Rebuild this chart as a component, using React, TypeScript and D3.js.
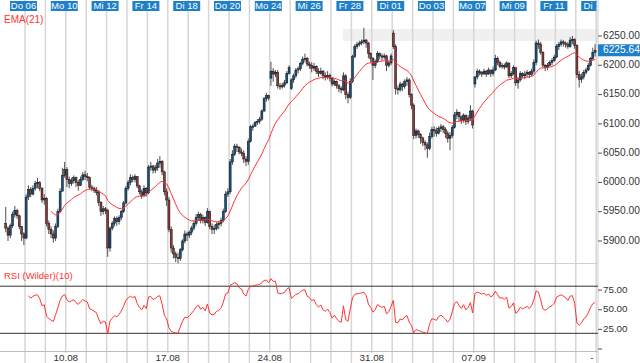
import React from "react";
import * as d3 from "d3";

const W = 640;
const H = 363;
const PER_DAY = 9;
const DAYS = 29;

// Top date labels (every other trading day) and their day index
const topLabels = ["Do 06", "Mo 10", "Mi 12", "Fr 14", "Di 18", "Do 20", "Mo 24", "Mi 26", "Fr 28", "Di 01", "Do 03", "Mo 07", "Mi 09", "Fr 11", "Di 15"];
const topLabelDays = [1, 3, 5, 7, 9, 11, 13, 15, 17, 19, 21, 23, 25, 27, 29];

// Bottom axis labels (Mondays)
const bottomLabels = ["10.08", "17.08", "24.08", "31.08", "07.09"];
const bottomLabelDays = [3, 8, 13, 18, 23];

const priceTicks = [5900, 5950, 6000, 6050, 6100, 6150, 6200, 6250];
const rsiTicks = [25, 50, 75];
const rsiTickMarks = [0, 25, 50, 75];
const rsiLevels = [20, 80];
const lastPrice = 6225.64;

// Hourly candles, 9 per trading day (05.08 - 14.09)
const closes = [
  5922, 5910, 5926, 5945, 5952, 5943, 5925, 5912, 5905,
  5975, 5988, 5980, 5990, 5998, 6000, 5990, 5970, 5973,
  5930, 5920, 5912, 5905, 5925, 5950, 5985, 6012, 6022,
  6005, 5998, 6003, 6008, 6000, 5995, 6005, 6013, 6010,
  6008, 5992, 5990, 5986, 5983, 5966, 5950, 5955, 5952,
  5888, 5922, 5930, 5938, 5933, 5940, 5950, 5965, 5990,
  6000, 6008, 6005, 6010, 5994, 5984, 5977, 5990, 5982,
  6026, 6028, 6021, 6025, 6033, 6036, 6018, 5984, 5970,
  5920, 5888, 5878, 5872, 5870, 5885, 5900, 5912, 5910,
  5915, 5922, 5930, 5940, 5945, 5935, 5940, 5932, 5950,
  5925, 5920, 5921, 5928, 5930, 5935, 5950, 5980, 5984,
  6035, 6048, 6062, 6060, 6052, 6050, 6040, 6036, 6070,
  6095, 6096, 6102, 6104, 6108, 6122, 6143, 6148, 6144,
  6190, 6185, 6188, 6165, 6163, 6166, 6170, 6186, 6196,
  6175, 6182, 6192, 6194, 6203, 6210, 6212, 6202, 6200,
  6195, 6198, 6190, 6186, 6190, 6182, 6180, 6183, 6178,
  6168, 6172, 6165, 6160, 6158, 6182, 6150, 6145, 6172,
  6215, 6232, 6236, 6238, 6240, 6243, 6238, 6220, 6212,
  6200, 6206, 6220, 6216, 6214, 6216, 6200, 6204, 6216,
  6232, 6160, 6158, 6168, 6164, 6172, 6175, 6150, 6132,
  6080, 6088, 6082, 6076, 6068, 6064, 6058, 6078, 6090,
  6088, 6084, 6092, 6095, 6090, 6084, 6075, 6080, 6094,
  6115, 6120, 6112, 6106, 6115, 6104, 6110, 6122, 6098,
  6180, 6190, 6188, 6185, 6190, 6185, 6192, 6186, 6192,
  6212, 6205, 6198, 6200, 6197, 6204, 6182, 6186, 6196,
  6170, 6175, 6186, 6182, 6185, 6188, 6184, 6190, 6205,
  6238, 6236, 6222, 6200, 6196, 6200, 6205, 6208, 6214,
  6232, 6236, 6240, 6238, 6236, 6232, 6243, 6244, 6234,
  6184, 6176, 6180, 6188, 6192, 6200, 6212, 6222, 6225.64,
];

const highs = [
  5958, 5925, 5930, 5950, 5960, 5955, 5945, 5925, 5915,
  5980, 5995, 5992, 5995, 6003, 6008, 6002, 5992, 5980,
  5975, 5935, 5925, 5918, 5930, 5955, 5990, 6025, 6035,
  6026, 6010, 6008, 6012, 6010, 6004, 6010, 6018, 6020,
  6016, 6010, 5996, 5993, 5992, 5986, 5968, 5960, 5958,
  5955, 5925, 5934, 5942, 5942, 5944, 5953, 5968, 5994,
  6004, 6014, 6012, 6014, 6010, 5996, 5988, 5995, 5992,
  6030, 6035, 6030, 6030, 6040, 6045, 6038, 6020, 5990,
  5975, 5925, 5893, 5882, 5880, 5888, 5903, 5918, 5916,
  5918, 5926, 5935, 5946, 5950, 5948, 5945, 5942, 5956,
  5952, 5930, 5928, 5932, 5934, 5940, 5955, 5985, 5990,
  6040, 6055, 6066, 6066, 6062, 6058, 6055, 6045, 6075,
  6098, 6100, 6105, 6108, 6112, 6125, 6146, 6153, 6150,
  6206, 6195, 6192, 6192, 6170, 6170, 6175, 6190, 6200,
  6178, 6186, 6195, 6198, 6206, 6215, 6220, 6214, 6206,
  6205, 6204, 6200, 6195, 6196, 6192, 6188, 6190, 6186,
  6180, 6176, 6174, 6168, 6164, 6188, 6185, 6155, 6178,
  6218, 6236, 6240, 6242, 6244, 6264, 6245, 6240, 6222,
  6214, 6210, 6224, 6222, 6220, 6220, 6218, 6208, 6220,
  6260, 6236, 6165, 6172, 6170, 6176, 6180, 6178, 6152,
  6135, 6092, 6090, 6084, 6078, 6072, 6068, 6085, 6095,
  6096, 6094, 6096, 6100, 6098, 6094, 6088, 6086, 6098,
  6120, 6125, 6120, 6114, 6118, 6112, 6115, 6132, 6124,
  6182, 6194, 6193, 6190, 6194, 6192, 6196, 6192, 6198,
  6218, 6215, 6208, 6204, 6203, 6207, 6204, 6190, 6200,
  6196, 6180, 6190, 6188, 6190, 6192, 6190, 6194, 6210,
  6242, 6244, 6240, 6224, 6202, 6204, 6208, 6212, 6218,
  6236, 6240, 6244, 6243, 6241, 6240, 6248, 6250, 6246,
  6236, 6190, 6186, 6192, 6196, 6204, 6214, 6230, 6236,
];

const lows = [
  5915, 5900, 5905, 5922, 5940, 5938, 5920, 5900, 5893,
  5903, 5970, 5975, 5978, 5986, 5990, 5985, 5965, 5962,
  5925, 5912, 5905, 5897, 5900, 5922, 5948, 5985, 6008,
  5992, 5990, 5994, 5998, 5992, 5986, 5994, 6002, 6004,
  6002, 5988, 5985, 5982, 5978, 5960, 5943, 5945, 5946,
  5873, 5882, 5918, 5925, 5926, 5928, 5936, 5948, 5962,
  5986, 5995, 6000, 6000, 5990, 5980, 5972, 5975, 5976,
  5980, 6020, 6015, 6016, 6020, 6025, 6012, 5978, 5960,
  5915, 5880, 5870, 5864, 5862, 5866, 5882, 5896, 5900,
  5905, 5910, 5918, 5926, 5934, 5930, 5930, 5926, 5930,
  5920, 5912, 5912, 5918, 5920, 5925, 5932, 5948, 5975,
  5980, 6030, 6045, 6052, 6048, 6045, 6033, 6028, 6030,
  6068, 6088, 6095, 6098, 6100, 6105, 6120, 6138, 6140,
  6165, 6172, 6180, 6160, 6158, 6160, 6162, 6168, 6184,
  6158, 6170, 6178, 6186, 6190, 6200, 6205, 6198, 6194,
  6188, 6190, 6185, 6180, 6184, 6176, 6174, 6176, 6172,
  6164, 6165, 6160, 6154, 6152, 6156, 6142, 6135, 6142,
  6170, 6212, 6228, 6232, 6234, 6236, 6230, 6212, 6205,
  6175, 6195, 6204, 6210, 6208, 6210, 6190, 6196, 6200,
  6228, 6150, 6150, 6155, 6156, 6160, 6165, 6145, 6125,
  6074, 6075, 6076, 6066, 6062, 6055, 6042, 6055, 6075,
  6078, 6078, 6082, 6086, 6084, 6076, 6068, 6055, 6076,
  6092, 6108, 6104, 6100, 6102, 6098, 6100, 6105, 6092,
  6162, 6176, 6183, 6180, 6184, 6180, 6184, 6180, 6182,
  6190, 6200, 6195, 6194, 6193, 6196, 6178, 6178, 6183,
  6165, 6160, 6172, 6178, 6176, 6180, 6178, 6182, 6186,
  6200, 6228, 6218, 6196, 6190, 6192, 6198, 6200, 6206,
  6212, 6226, 6232, 6232, 6230, 6228, 6230, 6236, 6228,
  6178, 6162, 6170, 6176, 6184, 6190, 6198, 6208, 6215,
];

// Opening gaps: [candle index, open]; other candles open at the previous close
const gapOpens: [number, number][] = [
  [0, 5930],
  [117, 6178],
  [126, 6160],
  [171, 6255],
  [207, 6168],
];

const FONT = "'Liberation Sans', Arial, Helvetica, sans-serif";
const BLUE_TAG = "#1f80c8";
const UP = "#16527f";
const DOWN = "#8e3a3a";
const RED = "#ff3333";

export default function App() {
  const n = closes.length;
  const gapMap = new Map<number, number>(gapOpens);
  const opens = closes.map((c, i) => (gapMap.has(i) ? (gapMap.get(i) as number) : closes[i - 1]));

  const x = d3.scaleLinear().domain([0, DAYS]).range([4.6, 596.2]);
  const cx = (i: number) => x((i + 0.5) / PER_DAY);
  const y = d3.scaleLinear().domain([5900, 6250]).range([241, 36]);
  const yr = d3.scaleLinear().domain([0, 100]).range([349, 270.5]);

  // EMA(21)
  const k = 2 / 22;
  const ema: [number, number][] = [];
  let e = d3.mean(closes.slice(0, 21)) as number;
  ema.push([20, e]);
  for (let i = 21; i < n; i++) {
    e = closes[i] * k + e * (1 - k);
    ema.push([i, e]);
  }

  // RSI Wilder(10)
  const rsi: [number, number][] = [];
  let ag = 0;
  let al = 0;
  for (let i = 1; i <= 10; i++) {
    const d = closes[i] - closes[i - 1];
    if (d > 0) ag += d;
    else al -= d;
  }
  ag /= 10;
  al /= 10;
  rsi.push([10, al === 0 ? 100 : 100 - 100 / (1 + ag / al)]);
  for (let i = 11; i < n; i++) {
    const d = closes[i] - closes[i - 1];
    ag = (ag * 9 + Math.max(d, 0)) / 10;
    al = (al * 9 + Math.max(-d, 0)) / 10;
    rsi.push([i, al === 0 ? 100 : 100 - 100 / (1 + ag / al)]);
  }

  const emaLine = d3
    .line<[number, number]>()
    .x((d) => cx(d[0]))
    .y((d) => y(d[1]))(ema) as string;
  const rsiLine = d3
    .line<[number, number]>()
    .x((d) => cx(d[0]))
    .y((d) => yr(d[1]))(rsi) as string;

  const gridDays = d3.range(1, DAYS + 1);
  const plotRight = 598;
  const bw = 2;

  return (
    <div style={{ position: "fixed", left: 0, top: 0, width: W, height: H, background: "#fff" }}>
      <svg width={W} height={H} style={{ display: "block" }} fontFamily={FONT}>
        <defs>
          <clipPath id="plotClip">
            <rect x={0} y={0} width={596.5} height={H} />
          </clipPath>
        </defs>
        <rect x={0} y={0} width={W} height={H} fill="#fff" />

        {/* grey band near the top */}
        <rect x={343} y={29} width={plotRight - 343} height={12} fill="#f0f0f0" />

        {/* vertical day grid */}
        {gridDays.map((d) => (
          <line key={"g" + d} x1={x(d)} x2={x(d)} y1={0} y2={H} stroke="#d6d6d6" strokeWidth={1.5} />
        ))}
        <line x1={plotRight} x2={plotRight} y1={0} y2={H} stroke="#cfcfcf" strokeWidth={1} />

        {/* panel separators */}
        <line x1={0} x2={plotRight} y1={263.5} y2={263.5} stroke="#d0d0d0" strokeWidth={1} />
        <line x1={0} x2={plotRight} y1={351.5} y2={351.5} stroke="#bdbdbd" strokeWidth={1} />

        {/* top date labels */}
        <g clipPath="url(#plotClip)">
          {topLabels.map((t, i) => {
            const c = x(topLabelDays[i]) - 1.5;
            return (
              <g key={"t" + i}>
                <rect x={c - 13.5} y={1} width={27} height={10} fill={BLUE_TAG} />
                <text x={c} y={6.3} fill="#fff" fontSize={9.5} textAnchor="middle" dominantBaseline="middle">
                  {t}
                </text>
              </g>
            );
          })}
        </g>

        {/* candles */}
        <g>
          {closes.map((c, i) => {
            const o = opens[i];
            const xc = cx(i);
            const top = y(Math.max(o, c));
            const bot = y(Math.min(o, c));
            return (
              <g key={"c" + i}>
                <line x1={xc} x2={xc} y1={y(highs[i])} y2={y(lows[i])} stroke="#3a3a3a" strokeWidth={0.9} />
                <rect
                  x={xc - bw / 2}
                  y={top}
                  width={bw}
                  height={Math.max(1, bot - top)}
                  fill={c >= o ? UP : DOWN}
                  stroke="#111"
                  strokeWidth={0.5}
                />
              </g>
            );
          })}
        </g>

        {/* EMA */}
        <path d={emaLine} fill="none" stroke={RED} strokeWidth={1} />
        <text x={4} y={20} fill={RED} fontSize={10} dominantBaseline="middle">
          EMA(21)
        </text>

        {/* price axis */}
        {priceTicks.map((v) => (
          <g key={"p" + v}>
            <line x1={plotRight} x2={plotRight + 4} y1={y(v)} y2={y(v)} stroke="#555" strokeWidth={1} />
            <text x={603} y={y(v)} fill="#333" fontSize={10.2} dominantBaseline="middle">
              {v.toFixed(2)}
            </text>
          </g>
        ))}
        <rect x={plotRight} y={y(lastPrice) - 6} width={W - plotRight} height={12} fill={BLUE_TAG} />
        <text x={603} y={y(lastPrice) + 0.5} fill="#fff" fontSize={10.2} dominantBaseline="middle">
          {lastPrice.toFixed(2)}
        </text>

        {/* RSI panel */}
        <text x={4} y={276} fill={RED} fontSize={9.5} dominantBaseline="middle">
          RSI (Wilder)(10)
        </text>
        {rsiLevels.map((v) => (
          <line key={"l" + v} x1={0} x2={plotRight} y1={yr(v)} y2={yr(v)} stroke="#333" strokeWidth={1} />
        ))}
        <path d={rsiLine} fill="none" stroke={RED} strokeWidth={1} />
        {rsiTickMarks.map((v) => (
          <line key={"rt" + v} x1={plotRight} x2={plotRight + 4} y1={yr(v)} y2={yr(v)} stroke="#555" strokeWidth={1} />
        ))}
        {rsiTicks.map((v) => (
          <text key={"rl" + v} x={603} y={yr(v)} fill="#333" fontSize={9.8} dominantBaseline="middle">
            {v.toFixed(2)}
          </text>
        ))}

        {/* bottom axis */}
        {bottomLabels.map((t, i) => (
          <g key={"b" + i}>
            <rect x={x(bottomLabelDays[i]) - 12} y={353} width={24} height={10} fill="#fff" />
            <text x={x(bottomLabelDays[i])} y={358.5} fill="#333" fontSize={9.8} textAnchor="middle" dominantBaseline="middle">
              {t}
            </text>
          </g>
        ))}
        <rect x={588} y={353} width={8} height={10} fill="#fff" />
        <text x={592} y={358} fill="#333" fontSize={9.8} textAnchor="middle" dominantBaseline="middle">
          -
        </text>
      </svg>
    </div>
  );
}
